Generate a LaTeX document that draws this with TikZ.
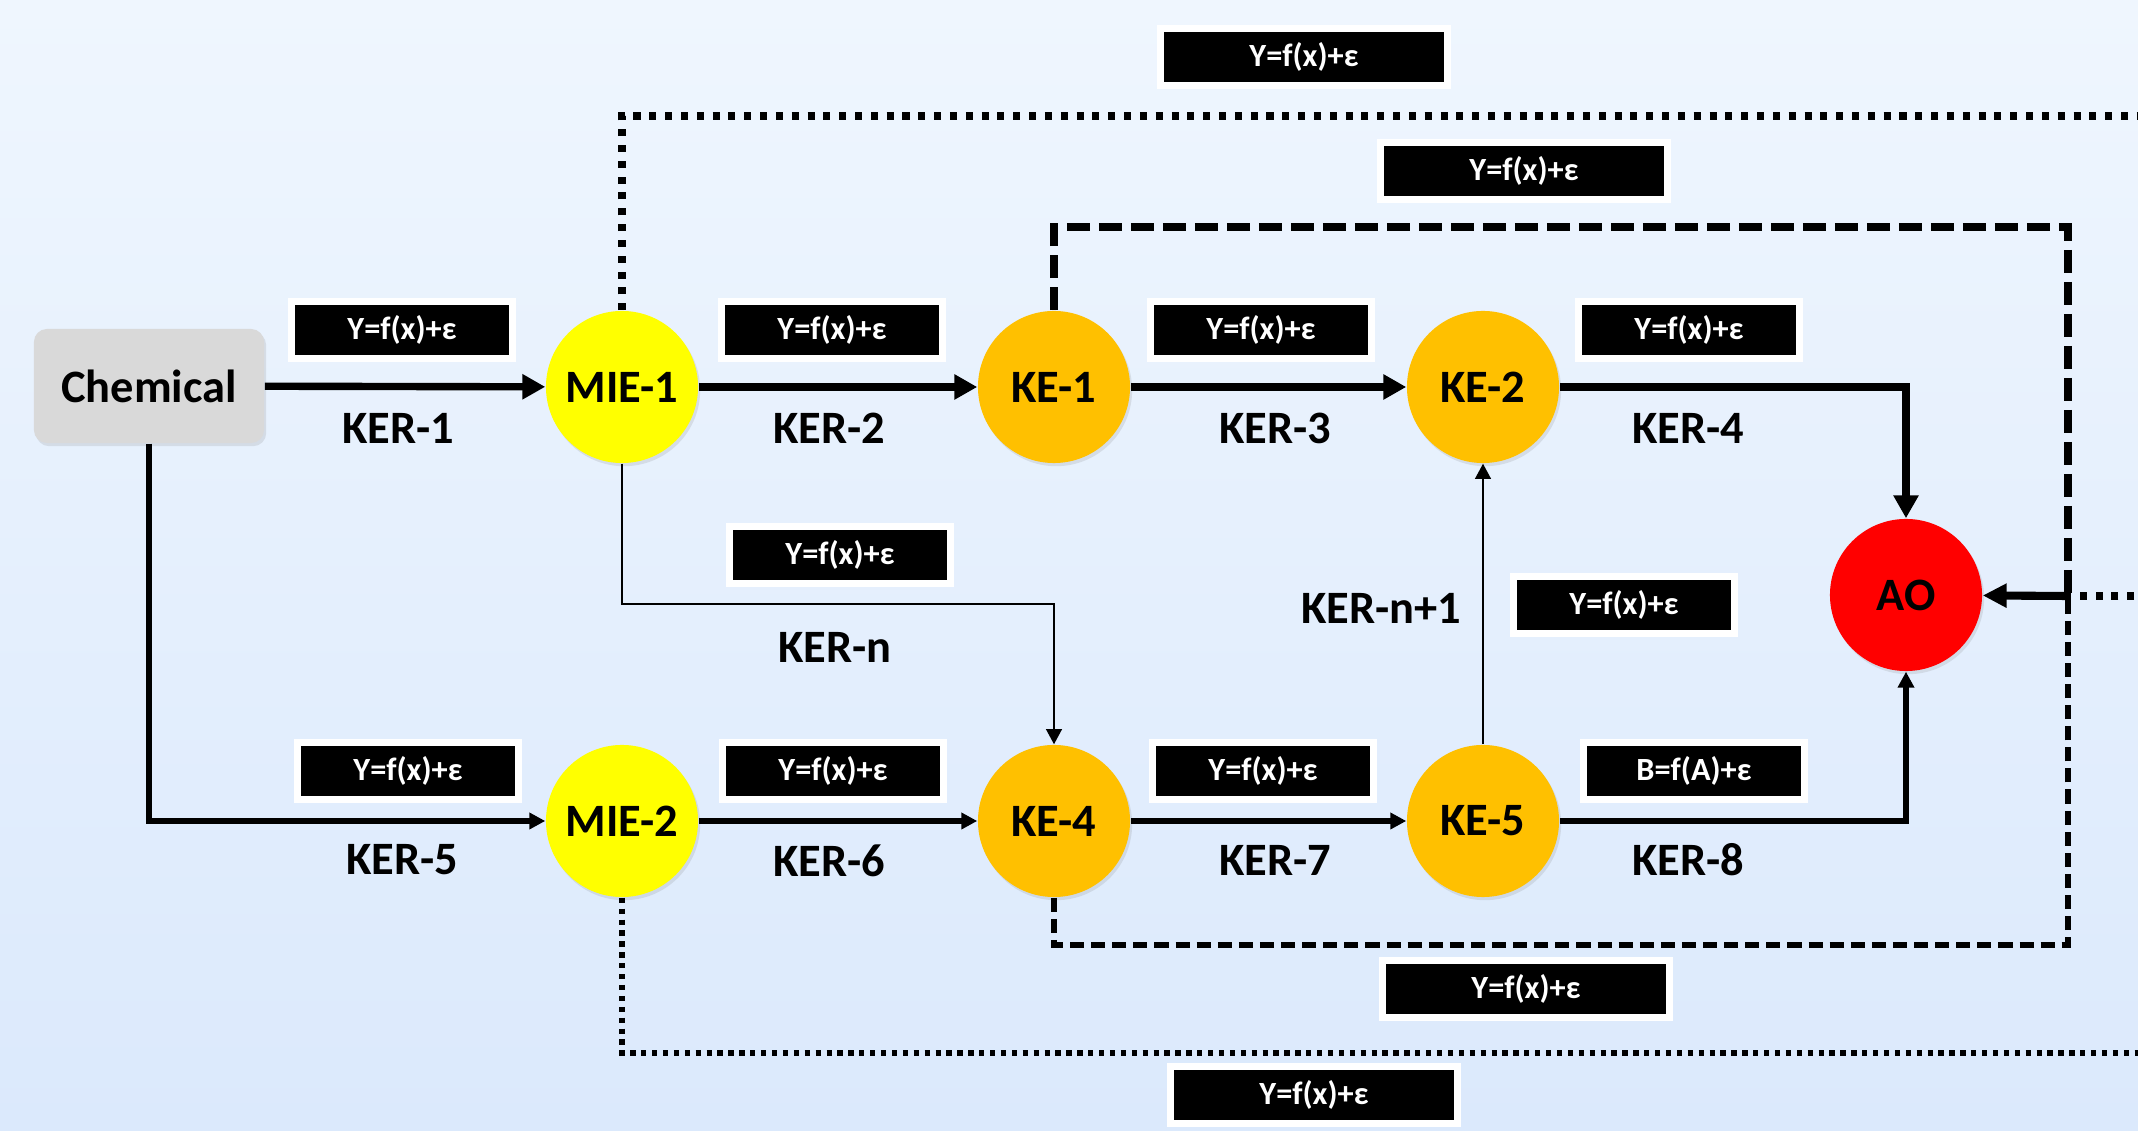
\documentclass[tikz,border=0pt]{standalone}
\usepackage{fontspec}
\setmainfont{Carlito}
\usetikzlibrary{arrows.meta, shadows}
\definecolor{bgtop}{RGB}{239,246,254}
\definecolor{bgbot}{RGB}{219,233,252}
\definecolor{chemgray}{RGB}{217,217,217}
\definecolor{mieyellow}{RGB}{255,255,0}
\definecolor{keorange}{RGB}{255,192,0}
\definecolor{aored}{RGB}{255,0,0}
\tikzset{
  softshadow/.style={drop shadow={opacity=0.18, shadow xshift=0.6pt, shadow yshift=-0.9pt}},
  event/.style={circle, minimum size=1.52cm, inner sep=0pt, softshadow,
    font=\fontsize{13.2}{15}\selectfont\bfseries},
  eqbox/.style={fill=black, draw=white, line width=2pt, minimum width=2.21cm,
    minimum height=0.57cm, inner sep=0pt, text=white, softshadow,
    font=\fontsize{9.2}{10}\selectfont\bfseries},
  wideeq/.style={eqbox, minimum width=2.86cm},
  kerlabel/.style={font=\fontsize{13.2}{15}\selectfont\bfseries},
  mainarrow/.style={line width=2.1pt, -{Triangle[length=6.5pt,width=6.8pt]}},
  lowarrow/.style={line width=1.6pt, -{Triangle[length=4.5pt,width=4.5pt]}},
  thinarrow/.style={line width=0.45pt, -{Triangle[length=4.3pt,width=4.5pt]}},
  topdots/.style={line width=2pt, dash pattern=on 2pt off 2.5pt},
  lowdots/.style={line width=1.5pt, dash pattern=on 1.5pt off 1.6pt},
  topdash/.style={line width=2pt, dash pattern=on 6.5pt off 2.6pt},
  lowdash/.style={line width=1.6pt, dash pattern=on 4pt off 2pt}
}
\begin{document}
\begin{tikzpicture}[x=0.01cm, y=-0.01cm]
\useasboundingbox (0,0) rectangle (2138,1131);
\shade[top color=bgtop, bottom color=bgbot] (0,0) rectangle (2138,1131);

% events
\node[rectangle, rounded corners=0.13cm, fill=chemgray, minimum width=2.30cm, minimum height=1.14cm,
  softshadow, font=\fontsize{13.2}{15}\selectfont\bfseries] (chem) at (149,386) {Chemical};
\node[event, fill=mieyellow] (mie1) at (622,387) {MIE-1};
\node[event, fill=keorange] (ke1) at (1054,387) {KE-1};
\node[event, fill=keorange] (ke2) at (1483,387) {KE-2};
\node[event, fill=aored] (ao) at (1906,595) {AO};
\node[event, fill=mieyellow] (mie2) at (622,821) {MIE-2};
\node[event, fill=keorange] (ke4) at (1054,821) {KE-4};
\node[event, fill=keorange] (ke5) at (1483,821) {KE-5};

% relationship names
\node[kerlabel] (ker1) at (398,428) {KER-1};
\node[kerlabel] (ker2) at (829,428) {KER-2};
\node[kerlabel] (ker3) at (1275,428) {KER-3};
\node[kerlabel] (ker4) at (1688,428) {KER-4};
\node[kerlabel] (kern) at (835,647) {KER-n};
\node[kerlabel] (kern1) at (1381,608) {KER-n+1};
\node[kerlabel] (ker5) at (402,860) {KER-5};
\node[kerlabel] (ker6) at (829,861) {KER-6};
\node[kerlabel] (ker7) at (1275,860) {KER-7};
\node[kerlabel] (ker8) at (1688,860) {KER-8};

% models
\node[eqbox] (eq1) at (402,330) {Y=f(x)+ε};
\node[eqbox] (eq2) at (832,330) {Y=f(x)+ε};
\node[eqbox] (eq3) at (1261,330) {Y=f(x)+ε};
\node[eqbox] (eq4) at (1689,330) {Y=f(x)+ε};
\node[eqbox] (eqn) at (840,555) {Y=f(x)+ε};
\node[eqbox] (eqn1) at (1624,605) {Y=f(x)+ε};
\node[eqbox] (eq5) at (408,771) {Y=f(x)+ε};
\node[eqbox] (eq6) at (833,771) {Y=f(x)+ε};
\node[eqbox] (eq7) at (1263,771) {Y=f(x)+ε};
\node[eqbox] (eq8) at (1694,771) {B=f(A)+ε};
\node[wideeq] (eqtop) at (1304,57) {Y=f(x)+ε};
\node[wideeq] (eqhigh) at (1524,171) {Y=f(x)+ε};
\node[wideeq] (eqlow) at (1526,989) {Y=f(x)+ε};
\node[wideeq] (eqbot) at (1314,1095) {Y=f(x)+ε};

% helper points
\coordinate (join) at (2068,596);
\coordinate (edgeao) at (2150,596);
\coordinate (edgetop) at (2150,116);
\coordinate (edgebot) at (2150,1053);
\coordinate (highcorner) at (2068,227);
\coordinate (lowcorner) at (2068,945);
\coordinate (splitn) at (840,604);

% main pathway
\draw[mainarrow] (chem) -- (mie1);
\draw[mainarrow] (mie1) -- (ke1);
\draw[mainarrow] (ke1) -- (ke2);
\draw[mainarrow] (ke2.east) -| (ao.north);
\draw[lowarrow] (chem.south) |- (mie2.west);
\draw[lowarrow] (mie2) -- (ke4);
\draw[lowarrow] (ke4) -- (ke5);
\draw[lowarrow] (ke5.east) -| (ao.south);
\draw[thinarrow] (mie1.south) |- (splitn) -| (ke4.north);
\draw[thinarrow] (ke5) -- (ke2);

% indirect links
\draw[topdots] (mie1.north) |- (edgetop);
\draw[lowdots] (mie2.south) |- (edgebot);
\draw[topdash] (ke1.north) |- (highcorner) -- (join);
\draw[lowdash] (ke4.south) |- (lowcorner) -- (join);
\draw[topdots] (edgeao) -- (join);
\draw[line width=2.3pt, -{Triangle[length=6.8pt,width=6.5pt]}] (join) -- (ao);
\end{tikzpicture}
\end{document}
